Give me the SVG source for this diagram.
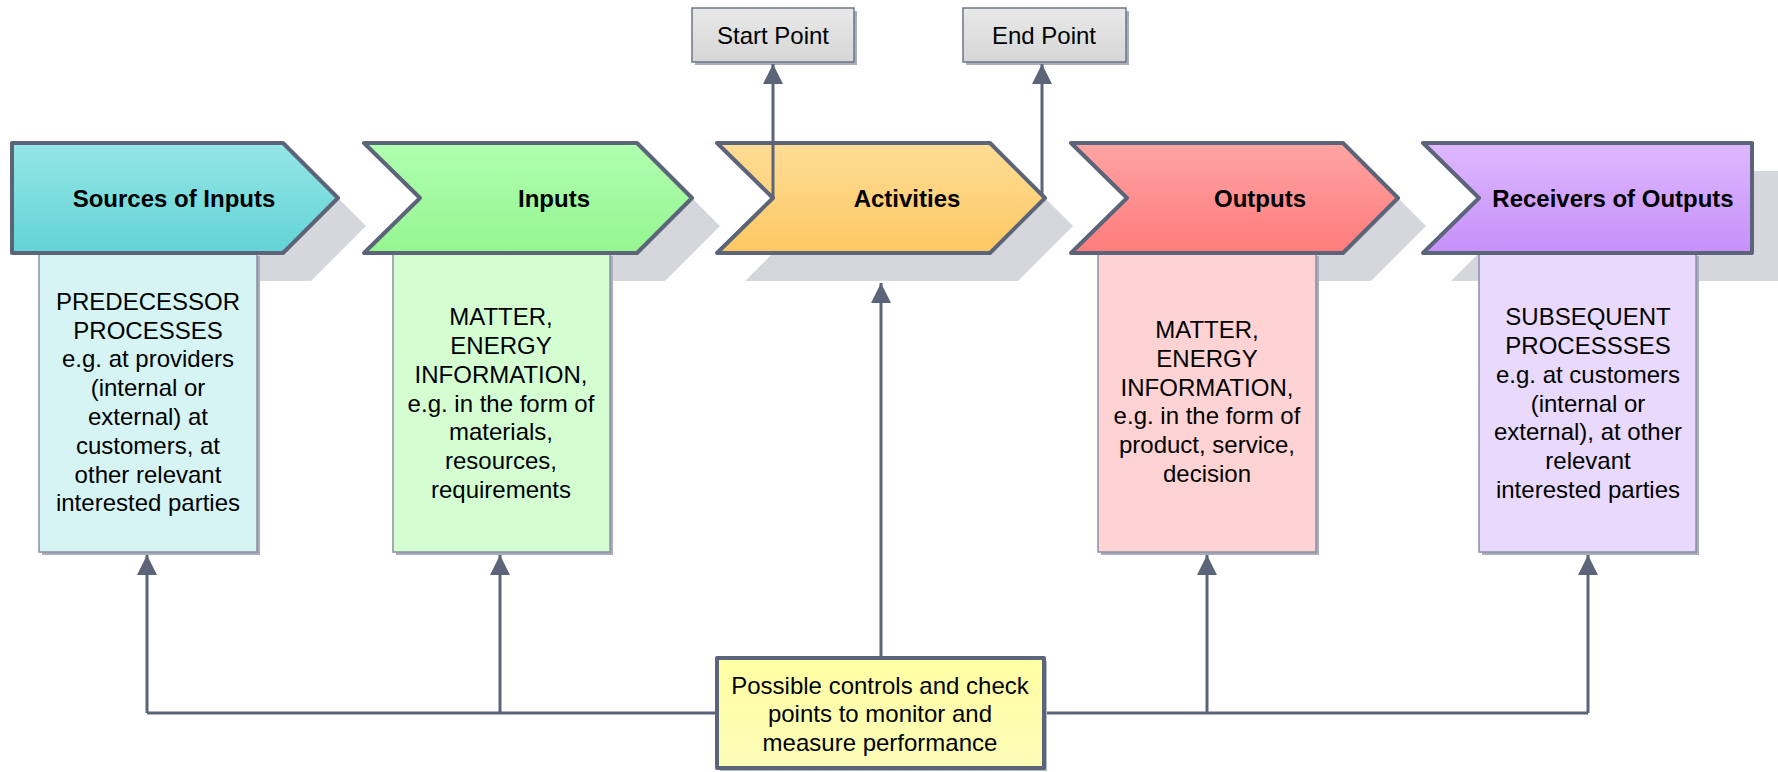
<svg xmlns="http://www.w3.org/2000/svg" width="1778" height="772" viewBox="0 0 1778 772">
<style>
.shadow{fill:#d6d7dc}
.chev{stroke:#5b6478;stroke-width:4;stroke-linejoin:round}
.body{stroke:#8a8fa2;stroke-width:1.5}
.bshadow{fill:#a9adbb}
.title{font-family:"Liberation Sans",Arial,sans-serif;font-size:24px;font-weight:bold;fill:#000;text-anchor:middle;dominant-baseline:central}
.txt{font-family:"Liberation Sans",Arial,sans-serif;font-size:24px;fill:#000;text-anchor:middle;dominant-baseline:central}
.conn{fill:none;stroke:#5b6478;stroke-width:3}
</style>
<defs>
<linearGradient id="gTeal" x1="0" y1="0" x2="0" y2="1"><stop offset="0" stop-color="#96e6e6"/><stop offset="1" stop-color="#62d3d5"/></linearGradient>
<linearGradient id="gGreen" x1="0" y1="0" x2="0" y2="1"><stop offset="0" stop-color="#b0ffb0"/><stop offset="1" stop-color="#95f590"/></linearGradient>
<linearGradient id="gOrange" x1="0" y1="0" x2="0" y2="1"><stop offset="0" stop-color="#fedd96"/><stop offset="1" stop-color="#fdc862"/></linearGradient>
<linearGradient id="gRed" x1="0" y1="0" x2="0" y2="1"><stop offset="0" stop-color="#ffa4a4"/><stop offset="1" stop-color="#ff7b7b"/></linearGradient>
<linearGradient id="gPurple" x1="0" y1="0" x2="0" y2="1"><stop offset="0" stop-color="#deb8ff"/><stop offset="1" stop-color="#c690f8"/></linearGradient>
<linearGradient id="gGray" x1="0" y1="0" x2="0" y2="1"><stop offset="0" stop-color="#e9e9e9"/><stop offset="1" stop-color="#d6d6d6"/></linearGradient>
<linearGradient id="gYellow" x1="0" y1="0" x2="0" y2="1"><stop offset="0" stop-color="#ffffa4"/><stop offset="1" stop-color="#fcfcb8"/></linearGradient>
<marker id="arr" markerUnits="userSpaceOnUse" markerWidth="20" markerHeight="20" viewBox="0 0 20 20" refX="20" refY="10" orient="auto">
<path d="M0,0 L20,10 L0,20 z" fill="#5b6478"/>
</marker>
</defs>

<!-- shadows of chevrons -->
<g id="shadows">
<path class="shadow" d="M40,171 H311 L366,226 L311,281 H40 Z"/>
<path class="shadow" d="M392,171 H665 L720,226 L665,281 H392 L447,226 Z"/>
<path class="shadow" d="M745,171 H1018 L1073,226 L1018,281 H745 L800,226 Z"/>
<path class="shadow" d="M1098,171 H1371 L1426,226 L1371,281 H1098 L1153,226 Z"/>
<path class="shadow" d="M1451,171 H1780 V281 H1451 L1506,226 Z"/>
</g>

<!-- body boxes -->
<g id="body-sources">
<rect class="bshadow" x="42" y="256" width="218" height="299"/>
<rect class="body" x="39" y="253" width="218" height="299" fill="#d6f4f4"/>
<text class="txt"><tspan x="148" y="301">PREDECESSOR</tspan><tspan x="148" y="330">PROCESSES</tspan><tspan x="148" y="358">e.g. at providers</tspan><tspan x="148" y="387">(internal or</tspan><tspan x="148" y="416">external) at</tspan><tspan x="148" y="445">customers, at</tspan><tspan x="148" y="474">other relevant</tspan><tspan x="148" y="502">interested parties</tspan></text>
</g>
<g id="body-inputs">
<rect class="bshadow" x="396" y="256" width="217" height="299"/>
<rect class="body" x="393" y="253" width="217" height="299" fill="#d4fed2"/>
<text class="txt"><tspan x="501" y="316">MATTER,</tspan><tspan x="501" y="345">ENERGY</tspan><tspan x="501" y="374">INFORMATION,</tspan><tspan x="501" y="403">e.g. in the form of</tspan><tspan x="501" y="431">materials,</tspan><tspan x="501" y="460">resources,</tspan><tspan x="501" y="489">requirements</tspan></text>
</g>
<g id="body-outputs">
<rect class="bshadow" x="1101" y="256" width="218" height="299"/>
<rect class="body" x="1098" y="253" width="218" height="299" fill="#ffd3d3"/>
<text class="txt"><tspan x="1207" y="329">MATTER,</tspan><tspan x="1207" y="358">ENERGY</tspan><tspan x="1207" y="387">INFORMATION,</tspan><tspan x="1207" y="415">e.g. in the form of</tspan><tspan x="1207" y="444">product, service,</tspan><tspan x="1207" y="473">decision</tspan></text>
</g>
<g id="body-receivers">
<rect class="bshadow" x="1482" y="256" width="217" height="299"/>
<rect class="body" x="1479" y="253" width="217" height="299" fill="#e9d9fd"/>
<text class="txt"><tspan x="1588" y="316">SUBSEQUENT</tspan><tspan x="1588" y="345">PROCESSSES</tspan><tspan x="1588" y="374">e.g. at customers</tspan><tspan x="1588" y="403">(internal or</tspan><tspan x="1588" y="431">external), at other</tspan><tspan x="1588" y="460">relevant</tspan><tspan x="1588" y="489">interested parties</tspan></text>
</g>

<!-- chevrons -->
<g id="sources">
<path class="chev" fill="url(#gTeal)" d="M12,143 H283 L338,198 L283,253 H12 Z"/>
<text class="title" x="174" y="198">Sources of Inputs</text>
</g>
<g id="inputs">
<path class="chev" fill="url(#gGreen)" d="M364,143 H637 L692,198 L637,253 H364 L420,198 Z"/>
<text class="title" x="554" y="198">Inputs</text>
</g>
<g id="activities">
<path class="chev" fill="url(#gOrange)" d="M717,143 H990 L1045,198 L990,253 H717 L773,198 Z"/>
<text class="title" x="907" y="198">Activities</text>
</g>
<g id="outputs">
<path class="chev" fill="url(#gRed)" d="M1071,143 H1343 L1398,198 L1343,253 H1071 L1127,198 Z"/>
<text class="title" x="1260" y="198">Outputs</text>
</g>
<g id="receivers">
<path class="chev" fill="url(#gPurple)" d="M1423,143 H1752 V253 H1423 L1479,198 Z"/>
<text class="title" x="1613" y="198">Receivers of Outputs</text>
</g>

<!-- start / end points -->
<g id="start-point">
<rect class="bshadow" x="695" y="11" width="162" height="54"/>
<rect x="692" y="8" width="162" height="54" fill="url(#gGray)" stroke="#6f7688" stroke-width="1.5"/>
<text class="txt" x="773" y="35">Start Point</text>
</g>
<g id="end-point">
<rect class="bshadow" x="966" y="11" width="163" height="54"/>
<rect x="963" y="8" width="163" height="54" fill="url(#gGray)" stroke="#6f7688" stroke-width="1.5"/>
<text class="txt" x="1044" y="35">End Point</text>
</g>

<!-- connectors -->
<g id="connectors">
<path class="conn" d="M773,198 V64" marker-end="url(#arr)"/>
<path class="conn" d="M1042,195 V64" marker-end="url(#arr)"/>
<path class="conn" d="M147,713 H1588"/>
<path class="conn" d="M147,713 V555" marker-end="url(#arr)"/>
<path class="conn" d="M500,713 V555" marker-end="url(#arr)"/>
<path class="conn" d="M881,658 V283" marker-end="url(#arr)"/>
<path class="conn" d="M1207,713 V555" marker-end="url(#arr)"/>
<path class="conn" d="M1588,713 V555" marker-end="url(#arr)"/>
</g>

<!-- control box -->
<g id="controls">
<rect x="720" y="661" width="327" height="110" fill="#b4b7c4"/>
<rect x="717" y="658" width="327" height="110" fill="url(#gYellow)" stroke="#5b6478" stroke-width="4" stroke-linejoin="round"/>
<text class="txt"><tspan x="880" y="685">Possible controls and check</tspan><tspan x="880" y="713">points to monitor and</tspan><tspan x="880" y="742">measure performance</tspan></text>
</g>
</svg>
